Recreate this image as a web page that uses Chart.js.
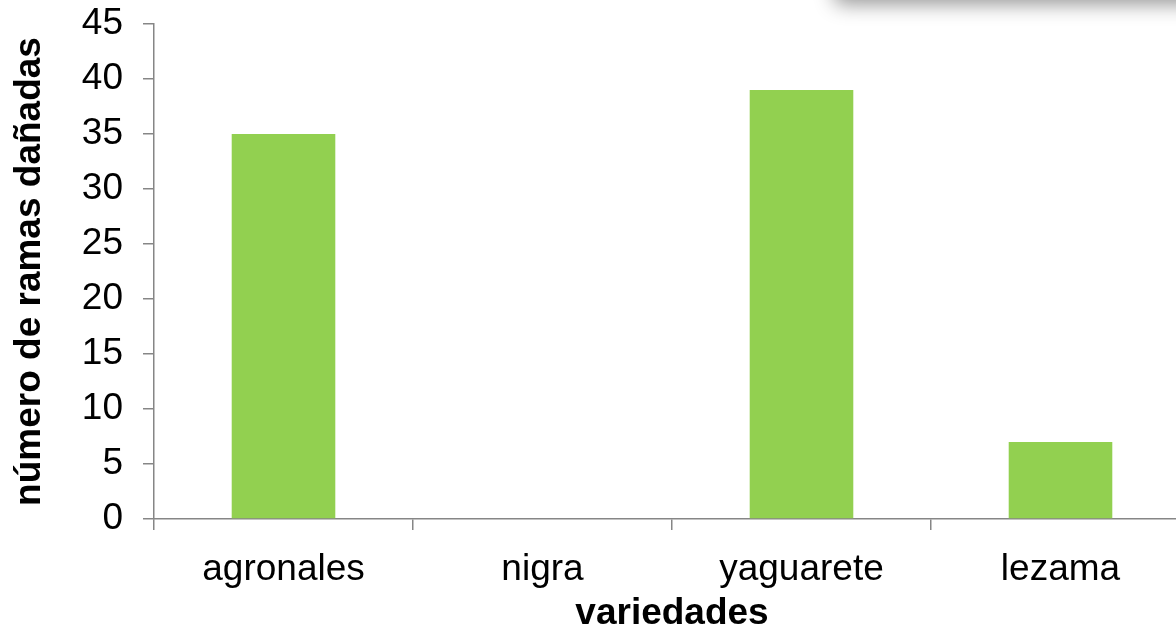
<!DOCTYPE html>
<html>
<head>
<meta charset="utf-8">
<script src="https://cdn.jsdelivr.net/npm/chart.js@4"></script>
<style>
  html, body { margin: 0; padding: 0; background: #fff; overflow: hidden; }
  #wrap { position: relative; width: 1200px; height: 630px; }
  #sombra {
    position: absolute; top: -60px; left: 834px; width: 420px; height: 60px;
    background: #fff; box-shadow: 0 4px 20px rgba(0,0,0,0.42); border-radius: 8px;
  }
</style>
</head>
<body>
<div id="wrap">
  <canvas id="myChart" width="1200" height="630"></canvas>
  <div id="sombra"></div>
</div>
<script>
const categorias = ["agronales", "nigra", "yaguarete", "lezama"];
const ramasDanadas = [35, 0, 39, 7];
const yMin = 0, yMax = 45, yPaso = 5;

const gris = "#868686";
const fuente = "'Liberation Sans', Arial, sans-serif";

let e = document.getElementById("myChart");
new Chart(e, {
    type: "bar",
    data: {
        labels: categorias,
        datasets: [{
            label: "número de ramas dañadas",
            data: ramasDanadas,
            backgroundColor: "#92D050",
            borderWidth: 0,
            barPercentage: 0.4,
            categoryPercentage: 1
        }]
    },
    options: {
        responsive: false,
        devicePixelRatio: 1,
        animation: false,
        layout: { padding: { top: 24, right: 10, left: 0, bottom: 0 } },
        plugins: { legend: { display: false }, tooltip: { enabled: false } },
        scales: {
            x: {
                grid: { offset: true, drawOnChartArea: false, color: gris, tickLength: 11, lineWidth: 1.5 },
                border: { color: gris, width: 1.5 },
                ticks: { color: "#000", font: { family: fuente, size: 37 }, padding: 18 },
                title: { display: true, text: "variedades", color: "#000",
                         font: { family: fuente, size: 37, weight: "bold" }, padding: { top: 2, bottom: -6 } },
                afterFit: s => { s.height = 111; }
            },
            y: {
                min: yMin, max: yMax,
                grid: { drawOnChartArea: false, color: gris, tickLength: 11, lineWidth: 1.5 },
                border: { color: gris, width: 1.5 },
                ticks: { stepSize: yPaso, color: "#000", font: { family: fuente, size: 37 }, padding: 20 },
                title: { display: true, text: "número de ramas dañadas", color: "#000",
                         font: { family: fuente, size: 37, weight: "bold" }, padding: { top: 8, bottom: 0 } },
                afterFit: s => { s.width = 154; s.paddingTop = 0; s.paddingBottom = 0; }
            }
        }
    }
});
</script>
</body>
</html>
